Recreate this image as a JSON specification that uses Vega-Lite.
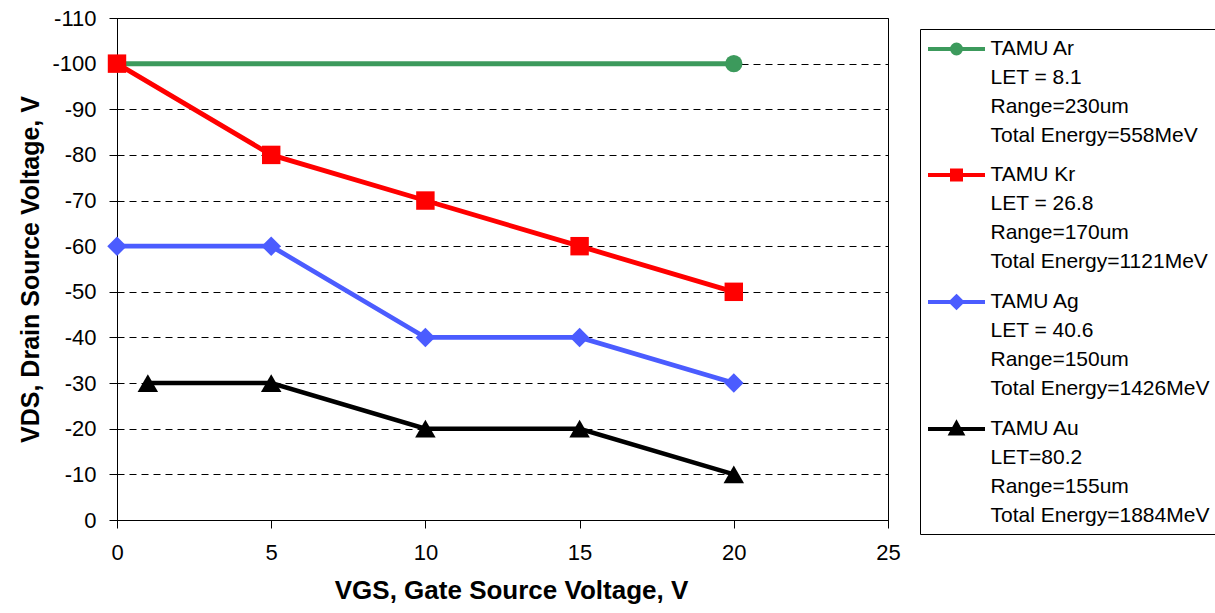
{
  "$schema": "https://vega.github.io/schema/vega-lite/v6.json",
  "autosize": {"type": "none"},
  "width": 771,
  "height": 502,
  "padding": {"left": 117, "top": 18, "right": 327, "bottom": 93},
  "background": "white",
  "config": {
    "view": {"stroke": "black", "strokeWidth": 1},
    "font": "Liberation Sans"
  },
  "data": {
    "values": [
      {"series": "TAMU Ar", "marker": "Ar", "vgs": 0, "vds": -100},
      {"series": "TAMU Ar", "marker": "Ar", "vgs": 20, "vds": -100},
      {"series": "TAMU Kr", "marker": "Kr", "vgs": 0, "vds": -100},
      {"series": "TAMU Kr", "marker": "Kr", "vgs": 5, "vds": -80},
      {"series": "TAMU Kr", "marker": "Kr", "vgs": 10, "vds": -70},
      {"series": "TAMU Kr", "marker": "Kr", "vgs": 15, "vds": -60},
      {"series": "TAMU Kr", "marker": "Kr", "vgs": 20, "vds": -50},
      {"series": "TAMU Ag", "marker": "Ag", "vgs": 0, "vds": -60},
      {"series": "TAMU Ag", "marker": "Ag", "vgs": 5, "vds": -60},
      {"series": "TAMU Ag", "marker": "Ag", "vgs": 10, "vds": -40},
      {"series": "TAMU Ag", "marker": "Ag", "vgs": 15, "vds": -40},
      {"series": "TAMU Ag", "marker": "Ag", "vgs": 20, "vds": -30},
      {"series": "TAMU Au", "marker": "Au", "vgs": 1, "vds": -30},
      {"series": "TAMU Au", "marker": "Au", "vgs": 5, "vds": -30},
      {"series": "TAMU Au", "marker": "Au", "vgs": 10, "vds": -20},
      {"series": "TAMU Au", "marker": "Au", "vgs": 15, "vds": -20},
      {"series": "TAMU Au", "marker": "Au", "vgs": 20, "vds": -10}
    ]
  },
  "encoding": {
    "x": {
      "field": "vgs", "type": "quantitative",
      "scale": {"domain": [0, 25], "nice": false, "zero": false},
      "axis": {
        "title": "VGS, Gate Source Voltage, V",
        "titleX": 394,
        "values": [0, 5, 10, 15, 20, 25],
        "grid": false,
        "labelFlush": false,
        "domainColor": "black", "tickColor": "black", "tickSize": 8,
        "labelFontSize": 22, "labelColor": "black", "labelPadding": 14,
        "labelFont": "Liberation Sans",
        "titleFont": "Liberation Sans", "titleFontSize": 26, "titleFontWeight": "bold",
        "titleColor": "black", "titlePadding": 14
      }
    },
    "y": {
      "field": "vds", "type": "quantitative",
      "scale": {"domain": [-110, 0], "reverse": true, "nice": false, "zero": false},
      "axis": {
        "title": "VDS, Drain Source Voltage, V",
        "values": [-110, -100, -90, -80, -70, -60, -50, -40, -30, -20, -10, 0],
        "labelExpr": "datum.value == 0 ? '0' : '-' + abs(datum.value)",
        "labelFlush": false,
        "grid": true, "gridColor": "black", "gridDash": [7, 5], "gridWidth": 1,
        "domainColor": "black", "tickColor": "black", "tickSize": 8,
        "labelFontSize": 22, "labelColor": "black", "labelPadding": 13,
        "labelFont": "Liberation Sans",
        "titleFont": "Liberation Sans", "titleFontSize": 25, "titleFontWeight": "bold",
        "titleColor": "black", "titlePadding": 8
      }
    },
    "color": {
      "field": "series", "type": "nominal",
      "scale": {
        "domain": ["TAMU Ar", "TAMU Kr", "TAMU Ag", "TAMU Au"],
        "range": ["#3c9a5c", "#ff0000", "#4b5cff", "#000000"]
      },
      "legend": {
        "title": null,
        "orient": "none",
        "legendX": 803,
        "legendY": 11,
        "padding": 8,
        "strokeColor": "black",
        "fillColor": "white",
        "labelFont": "Liberation Sans",
        "labelFontSize": 21,
        "labelColor": "black",
        "labelLimit": 400,
        "labelOffset": 22,
        "labelBaseline": "middle",
        "rowPadding": 16,
        "symbolType": "M-1,0H1",
        "symbolSize": 400,
        "symbolOffset": 16.5,
        "symbolStrokeWidth": 4,
        "labelExpr": "datum.label == 'TAMU Ar' ? ['TAMU Ar', 'LET = 8.1', 'Range=230um', 'Total Energy=558MeV'] : datum.label == 'TAMU Kr' ? ['TAMU Kr', 'LET = 26.8', 'Range=170um', 'Total Energy=1121MeV'] : datum.label == 'TAMU Ag' ? ['TAMU Ag', 'LET = 40.6', 'Range=150um', 'Total Energy=1426MeV'] : ['TAMU Au', 'LET=80.2', 'Range=155um', 'Total Energy=1884MeV']",
        "encode": {
          "labels": {"update": {"lineHeight": {"value": 29}}},
          "symbols": {
            "update": {
              "shape": {"signal": "datum.value == 'TAMU Ar' ? 'M-2.85,0H2.85M-0.45,0A0.45,0.45 0 1,0 0.45,0A0.45,0.45 0 1,0 -0.45,0Z' : datum.value == 'TAMU Kr' ? 'M-2.85,0H2.85M-0.45,-0.45H0.45V0.45H-0.45Z' : datum.value == 'TAMU Ag' ? 'M-2.85,0H2.85M0,-0.55L0.55,0L0,0.55L-0.55,0Z' : 'M-2.85,0H2.85M0,-0.55L0.55,0.45L-0.55,0.45Z'"},
              "size": {"value": 400},
              "fill": {"signal": "scale('color', datum.value)"},
              "stroke": {"signal": "scale('color', datum.value)"},
              "strokeWidth": {"value": 4},
              "opacity": {"value": 1},
              "fillOpacity": {"value": 1}
            }
          }
        }
      }
    }
  },
  "layer": [
    {
      "mark": {"type": "line"},
      "encoding": {
        "strokeWidth": {
          "field": "marker", "type": "nominal",
          "scale": {"domain": ["Ar", "Kr", "Ag", "Au"], "range": [5, 4.5, 4, 3.5]},
          "legend": null
        }
      }
    },
    {
      "mark": {"type": "point", "filled": true, "opacity": 1},
      "encoding": {
        "shape": {
          "field": "marker", "type": "nominal",
          "scale": {"domain": ["Ar", "Kr", "Ag", "Au"], "range": ["circle", "square", "diamond", "triangle-up"]},
          "legend": null
        },
        "size": {
          "field": "marker", "type": "nominal",
          "scale": {"domain": ["Ar", "Kr", "Ag", "Au"], "range": [300, 420, 480, 480]},
          "legend": null
        }
      }
    }
  ]
}
